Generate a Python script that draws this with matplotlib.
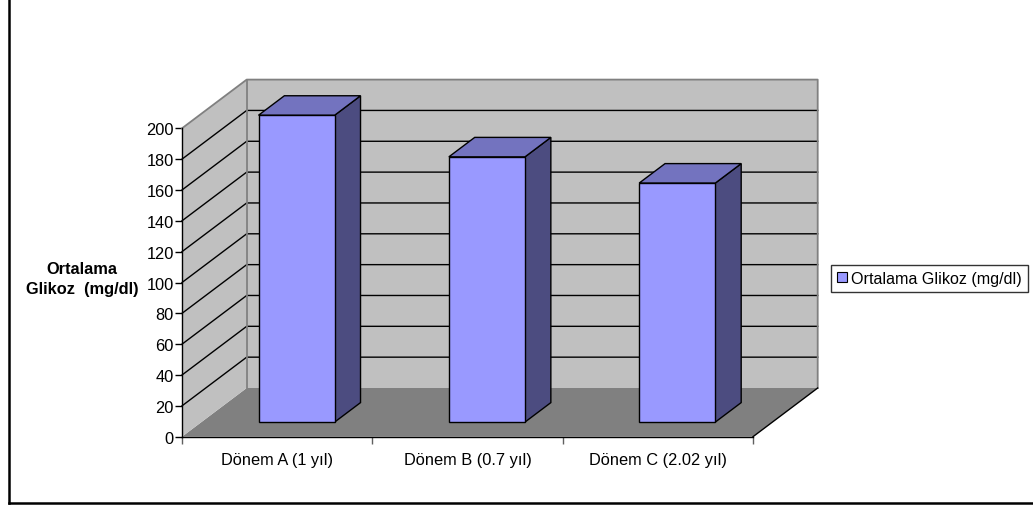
import matplotlib
matplotlib.use("Agg")
import matplotlib.pyplot as plt
from matplotlib.patches import Polygon, Patch
from matplotlib.lines import Line2D

plt.rcParams['font.family'] = ['Liberation Sans', 'DejaVu Sans']

# Data
categories = ["Dönem A (1 yıl)", "Dönem B (0.7 yıl)", "Dönem C (2.02 yıl)"]
glucose = [199, 172, 155]
series_name = "Ortalama Glikoz (mg/dl)"
y_ticks = list(range(0, 201, 20))
y_label = "Ortalama\nGlikoz  (mg/dl)"

# Styling
W, H = 1033, 506
FS = 11.8
wall_color = "#C0C0C0"
floor_color = "#808080"
edge_gray = "#808080"
front_color = "#9999FF"
top_color = "#7373BF"
side_color = "#4C4C80"

fig = plt.figure(figsize=(W / 100, H / 100), dpi=100)
fig.patch.set_facecolor("white")

# Front plane of the 3-D plot area (in pixels from top-left)
fx0, fx1, fy_top, fy_bot = 182, 753, 129.3, 437.7
ax = fig.add_axes([fx0 / W, (H - fy_bot) / H, (fx1 - fx0) / W, (fy_bot - fy_top) / H])
ncat = len(categories)
vmax = 200
ax.set_xlim(0, ncat)
ax.set_ylim(0, vmax)
ax.set_facecolor("none")

# Oblique depth offset, expressed in data units
px_per_cat = (fx1 - fx0) / ncat
px_per_val = (fy_bot - fy_top) / vmax
DX = 64.7 / px_per_cat
DY = 48.7 / px_per_val


def proj(x, v, d):
    """Project a point (category x, value v, depth d in 0..1) to the axes plane."""
    return (x + d * DX, v + d * DY)


def poly(pts, color, z, ec="none", lw=0.0):
    p = Polygon(pts, closed=True, facecolor=color, edgecolor=ec, linewidth=lw,
                zorder=z, clip_on=False, joinstyle="miter")
    ax.add_patch(p)


# Floor
poly([proj(0, 0, 0), proj(ncat, 0, 0), proj(ncat, 0, 1), proj(0, 0, 1)], floor_color, 1)
# Left side wall
poly([proj(0, 0, 0), proj(0, 0, 1), proj(0, vmax, 1), proj(0, vmax, 0)], wall_color, 1)
# Back wall
poly([proj(0, 0, 1), proj(ncat, 0, 1), proj(ncat, vmax, 1), proj(0, vmax, 1)], wall_color, 1)

# Gridlines on left wall and back wall
for t in y_ticks[1:-1]:
    xs = [proj(0, t, 0)[0], proj(0, t, 1)[0], proj(ncat, t, 1)[0]]
    ys = [proj(0, t, 0)[1], proj(0, t, 1)[1], proj(ncat, t, 1)[1]]
    ax.add_line(Line2D(xs, ys, color="black", lw=1.0, zorder=2, clip_on=False))

# Wall edges
edge_pts = [proj(0, vmax, 0), proj(0, vmax, 1), proj(ncat, vmax, 1), proj(ncat, 0, 1)]
ax.add_line(Line2D([p[0] for p in edge_pts], [p[1] for p in edge_pts],
                   color=edge_gray, lw=1.3, zorder=2, clip_on=False))
ax.add_line(Line2D([proj(0, 0, 1)[0], proj(0, vmax, 1)[0]],
                   [proj(0, 0, 1)[1], proj(0, vmax, 1)[1]],
                   color=edge_gray, lw=1.3, zorder=2, clip_on=False))
# Floor right edge
ax.add_line(Line2D([proj(ncat, 0, 0)[0], proj(ncat, 0, 1)[0]],
                   [proj(ncat, 0, 0)[1], proj(ncat, 0, 1)[1]],
                   color="black", lw=1.0, zorder=2, clip_on=False))

# Bars (3-D boxes)
bw, d0, d1 = 0.4, 0.3, 0.7
for i, val in enumerate(glucose):
    xl = i + 0.5 - bw / 2
    xr = i + 0.5 + bw / 2
    front = [proj(xl, 0, d0), proj(xr, 0, d0), proj(xr, val, d0), proj(xl, val, d0)]
    side = [proj(xr, 0, d0), proj(xr, 0, d1), proj(xr, val, d1), proj(xr, val, d0)]
    top = [proj(xl, val, d0), proj(xr, val, d0), proj(xr, val, d1), proj(xl, val, d1)]
    poly(side, side_color, 3, ec="black", lw=1.0)
    poly(top, top_color, 3, ec="black", lw=1.0)
    poly(front, front_color, 4, ec="black", lw=1.0)

# Axes: spines, ticks and labels
for s in ("top", "right"):
    ax.spines[s].set_visible(False)
for s in ("left", "bottom"):
    ax.spines[s].set_color("black")
    ax.spines[s].set_linewidth(1.0)
    ax.spines[s].set_zorder(5)

ax.set_yticks(y_ticks)
ax.set_yticklabels([str(t) for t in y_ticks], fontsize=FS)
ax.tick_params(axis="y", direction="out", length=5, width=1, color="black", pad=1)

ax.set_xticks([i + 0.5 for i in range(ncat)])
ax.set_xticklabels(categories, fontsize=FS)
ax.tick_params(axis="x", which="major", length=0, pad=11)
ax.set_xticks(list(range(ncat + 1)), minor=True)
ax.tick_params(axis="x", which="minor", direction="out", length=5, width=1, color="#606060")

ax.set_ylabel(y_label, fontsize=FS, fontweight="bold", rotation=0,
              ha="center", va="center", linespacing=1.45)
ax.yaxis.set_label_coords(-0.175, 0.512)

# Legend
handle = Patch(facecolor=front_color, edgecolor="black", linewidth=0.8, label=series_name)
leg = fig.legend(handles=[handle], loc="center right",
                 bbox_to_anchor=(1028 / W, (H - 279.5) / H),
                 frameon=True, fancybox=False, edgecolor="black", fontsize=11.6,
                 handlelength=0.6, handleheight=0.6, handletextpad=0.25,
                 borderpad=0.4, borderaxespad=0)
leg.get_frame().set_linewidth(1.0)

# Chart area border (left and bottom edges)
fig.add_artist(Line2D([9 / W, 9 / W], [(H - 503.7) / H, 1.0], color="black", lw=1.8,
                      transform=fig.transFigure))
fig.add_artist(Line2D([9 / W, 1.0], [(H - 503.7) / H, (H - 503.7) / H], color="black",
                      lw=1.8, transform=fig.transFigure))

fig.savefig("out.png", dpi=100, facecolor="white")
